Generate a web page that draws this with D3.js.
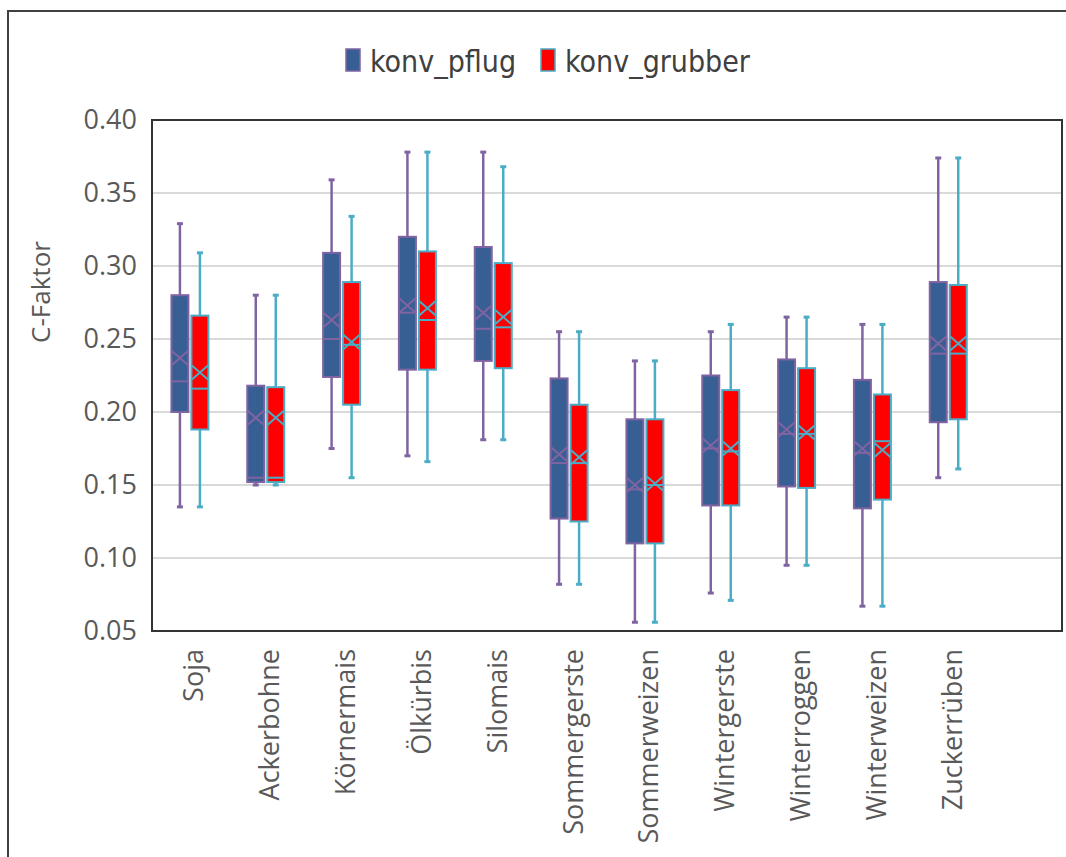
<!DOCTYPE html>
<html><head><meta charset="utf-8">
<script src="https://cdn.jsdelivr.net/npm/d3@7"></script>
<style>body{margin:0;background:#fff}svg{display:block}</style>
</head><body><svg id="c" width="1066" height="857"></svg>
<script>
const categories = ["Soja","Ackerbohne","Körnermais","Ölkürbis","Silomais","Sommergerste","Sommerweizen","Wintergerste","Winterroggen","Winterweizen","Zuckerrüben",""];
const seriesNames = ["konv_pflug","konv_grubber"];
const yTicks = [0.05,0.10,0.15,0.20,0.25,0.30,0.35,0.40];
// pflug: [min, q1, median, q3, max, mean]
const pflugMin    = [0.135,0.150,0.175,0.170,0.181,0.082,0.056,0.076,0.095,0.067,0.155];
const pflugQ1     = [0.200,0.152,0.224,0.229,0.235,0.127,0.110,0.136,0.149,0.134,0.193];
const pflugMedian = [0.221,0.155,0.250,0.268,0.257,0.165,0.147,0.175,0.185,0.172,0.240];
const pflugQ3     = [0.280,0.218,0.309,0.320,0.313,0.223,0.195,0.225,0.236,0.222,0.289];
const pflugMax    = [0.329,0.280,0.359,0.378,0.378,0.255,0.235,0.255,0.265,0.260,0.374];
const pflugMean   = [0.237,0.196,0.263,0.273,0.268,0.171,0.150,0.177,0.188,0.175,0.247];
const grubMin     = [0.135,0.150,0.155,0.166,0.181,0.082,0.056,0.071,0.095,0.067,0.161];
const grubQ1      = [0.188,0.152,0.205,0.229,0.230,0.125,0.110,0.136,0.148,0.140,0.195];
const grubMedian  = [0.216,0.155,0.246,0.263,0.258,0.165,0.150,0.173,0.185,0.180,0.240];
const grubQ3      = [0.266,0.217,0.289,0.310,0.302,0.205,0.195,0.215,0.230,0.212,0.287];
const grubMax     = [0.309,0.280,0.334,0.378,0.368,0.255,0.235,0.260,0.265,0.260,0.374];
const grubMean    = [0.227,0.196,0.248,0.271,0.265,0.169,0.151,0.175,0.186,0.174,0.247];

const svg = d3.select("#c");
const L=152, R=1062, T=120, B=631;
const x = d3.scaleBand().domain(categories).range([L,R]);
const y = d3.scaleLinear().domain([0.05,0.40]).range([B,T]);
const textCol="#595959";

// outer frame
svg.append("path").attr("d","M8,857 L8,11 L1066,11").attr("fill","none").attr("stroke","#404040").attr("stroke-width",2);

// grid
svg.append("g").selectAll("line").data(yTicks.slice(1,-1)).join("line")
  .attr("x1",L).attr("x2",R).attr("y1",d=>y(d)).attr("y2",d=>y(d))
  .attr("stroke","#d9d9d9").attr("stroke-width",2);

// y axis
const ya = svg.append("g").attr("transform",`translate(${L},0)`)
  .call(d3.axisLeft(y).tickValues(yTicks).tickFormat(d3.format(".2f")).tickSize(0).tickPadding(15));
ya.select(".domain").remove();
ya.selectAll("text").attr("font-family","'Open Sans'").attr("font-size",27).attr("fill",textCol);

svg.append("text").attr("transform","translate(50,292) rotate(-90)").attr("text-anchor","middle")
  .attr("font-family","'Open Sans'").attr("font-size",26).attr("fill",textCol).text("C-Faktor");

// x axis labels
const xa = svg.append("g").attr("transform",`translate(0,${B})`)
  .call(d3.axisBottom(x).tickSize(0).tickPadding(0));
xa.select(".domain").remove();
xa.selectAll("text").attr("font-family","'Open Sans'").attr("font-size",27).attr("fill",textCol)
  .attr("text-anchor","end").attr("transform","rotate(-90)").attr("x",-18).attr("y",4).attr("dy","0.35em");

const series = [
  {name:seriesNames[0], min:pflugMin,q1:pflugQ1,med:pflugMedian,q3:pflugQ3,max:pflugMax,mean:pflugMean, fill:"#375F93", stroke:"#8064A2", off:-10},
  {name:seriesNames[1], min:grubMin,q1:grubQ1,med:grubMedian,q3:grubQ3,max:grubMax,mean:grubMean, fill:"#FF0000", stroke:"#4BACC6", off:10}
];
const bw=17;
series.forEach(s=>{
  const g=svg.append("g");
  const data=categories.slice(0,11).map((c,i)=>({c,i,cx:x(c)+x.bandwidth()/2+s.off}));
  g.selectAll(".wu").data(data).join("line").attr("x1",d=>d.cx).attr("x2",d=>d.cx)
    .attr("y1",d=>y(s.max[d.i])).attr("y2",d=>y(s.q3[d.i])).attr("stroke",s.stroke).attr("stroke-width",2.5);
  g.selectAll(".wl").data(data).join("line").attr("x1",d=>d.cx).attr("x2",d=>d.cx)
    .attr("y1",d=>y(s.q1[d.i])).attr("y2",d=>y(s.min[d.i])).attr("stroke",s.stroke).attr("stroke-width",2.5);
  ["max","min"].forEach(k=>{
    g.selectAll(".cap"+k).data(data).join("line").attr("x1",d=>d.cx-3).attr("x2",d=>d.cx+3)
      .attr("y1",d=>y(s[k][d.i])).attr("y2",d=>y(s[k][d.i])).attr("stroke",s.stroke).attr("stroke-width",3);
  });
  g.selectAll("rect").data(data).join("rect").attr("x",d=>d.cx-bw/2).attr("width",bw)
    .attr("y",d=>y(s.q3[d.i])).attr("height",d=>y(s.q1[d.i])-y(s.q3[d.i]))
    .attr("fill",s.fill).attr("stroke",s.stroke).attr("stroke-width",2);
  g.selectAll(".med").data(data).join("line").attr("x1",d=>d.cx-bw/2).attr("x2",d=>d.cx+bw/2)
    .attr("y1",d=>y(s.med[d.i])).attr("y2",d=>y(s.med[d.i])).attr("stroke",s.stroke).attr("stroke-width",2);
  g.selectAll(".mean").data(data).join("path")
    .attr("d",d=>{const cx=d.cx, cy=y(s.mean[d.i]); return `M${cx-8},${cy-7}L${cx+8},${cy+7}M${cx-8},${cy+7}L${cx+8},${cy-7}`;})
    .attr("fill","none").attr("stroke",s.stroke).attr("stroke-width",2);
});

// plot frame
svg.append("rect").attr("x",L).attr("y",T).attr("width",R-L).attr("height",B-T)
  .attr("fill","none").attr("stroke","#333").attr("stroke-width",2);

// legend
const leg=svg.append("g");
const legItems=[{n:seriesNames[0],f:"#375F93",s:"#8064A2",x:346},{n:seriesNames[1],f:"#FF0000",s:"#4BACC6",x:541}];
legItems.forEach(it=>{
  leg.append("rect").attr("x",it.x).attr("y",49).attr("width",14).attr("height",22).attr("fill",it.f).attr("stroke",it.s).attr("stroke-width",1.5);
  leg.append("text").attr("x",it.x+24).attr("y",72).attr("font-family","'Liberation Sans Narrow','DejaVu Sans Condensed','Open Sans'").attr("font-size",30)
    .attr("fill","#404040").text(it.n);
});
</script></body></html>
